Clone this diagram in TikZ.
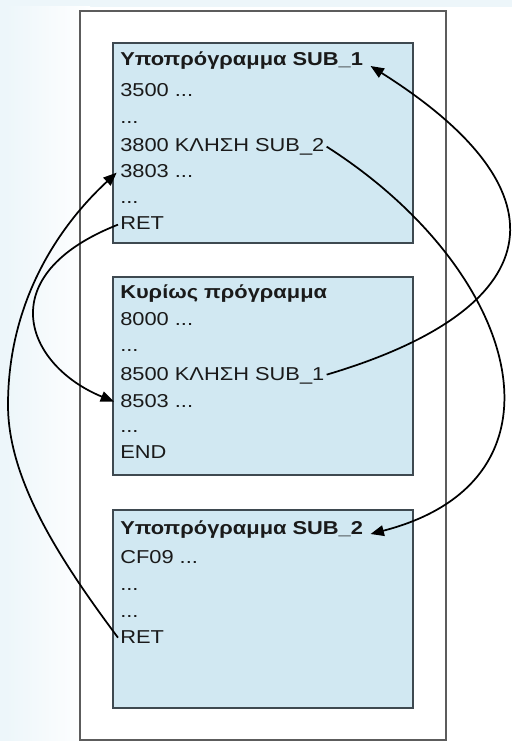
\documentclass[tikz,border=0pt]{standalone}
\usepackage{fontspec}
\setmainfont[FakeStretch=1.17]{Liberation Sans}
\usepackage{tikz}
\usetikzlibrary{arrows.meta}
\definecolor{bgblue}{HTML}{EDF6FA}
\definecolor{blockblue}{HTML}{D1E8F2}
\definecolor{blockedge}{HTML}{3E4950}
\definecolor{framegray}{HTML}{5C5C5C}
\definecolor{codetext}{HTML}{1A1A1A}
\tikzset{
  prog-frame/.style={draw=framegray, fill=white, line width=1.1pt},
  prog-block/.style={draw=blockedge, fill=blockblue, line width=1.2pt},
  prog-line/.style={anchor=base west, inner sep=1.5pt, text height=8pt, text depth=0pt,
    font=\fontsize{14}{17}\selectfont, text=codetext},
  prog-title/.style={prog-line, font=\fontsize{14}{17}\selectfont\bfseries},
  prog-jump/.style={-{Triangle[length=10pt,width=8pt]}, line width=1.3pt, black}
}

\begin{document}
\begin{tikzpicture}[x=0.75pt, y=-0.75pt]
  \useasboundingbox (0,0) rectangle (512,741);
  \fill[bgblue] (0,0) rectangle (512,741);
  \shade[left color=bgblue, right color=white] (6,7) rectangle (90,741);
  \fill[white] (90,7) rectangle (512,741);

  % Memory frame and program blocks
  \draw[prog-frame] (80,11) rectangle (446,740);
  \draw[prog-block] (113,43) rectangle (413,243);
  \draw[prog-block] (113,277) rectangle (413,475);
  \draw[prog-block] (113,510) rectangle (413,708);

  % Subroutine SUB_1
  \node[prog-title] (s1t) at (118,66) {Υποπρόγραμμα SUB\_1};
  \node[prog-line] (s1a) at (118,97) {3500 ...};
  \node[prog-line] (s1b) at (118,124) {...};
  \node[prog-line] (s1c) at (118,152) {3800 ΚΛΗΣΗ SUB\_2};
  \node[prog-line] (s1d) at (118,178) {3803 ...};
  \node[prog-line] (s1e) at (118,204) {...};
  \node[prog-line] (s1r) at (118,230) {RET};

  % Main program
  \node[prog-title] (mt) at (118,298) {Κυρίως πρόγραμμα};
  \node[prog-line] (ma) at (118,325) {8000 ...};
  \node[prog-line] (mb) at (118,351) {...};
  \node[prog-line] (mc) at (118,380) {8500 ΚΛΗΣΗ SUB\_1};
  \node[prog-line] (md) at (118,407) {8503 ...};
  \node[prog-line] (me) at (118,432) {...};
  \node[prog-line] (mr) at (118,458) {END};

  % Subroutine SUB_2
  \node[prog-title] (s2t) at (118,534) {Υποπρόγραμμα SUB\_2};
  \node[prog-line] (s2a) at (118,563) {CF09 ...};
  \node[prog-line] (s2b) at (118,590) {...};
  \node[prog-line] (s2c) at (118,617) {...};
  \node[prog-line] (s2r) at (118,643) {RET};

  % Calls
  \draw[prog-jump] (mc.east) .. controls (545,310) and (575,195) .. ([xshift=4pt]s1t.base east);
  \draw[prog-jump] (s1c.east) .. controls (520,270) and (580,480) .. ([xshift=4pt]s2t.base east);

  % Returns
  \draw[prog-jump] (s1r.west) .. controls (-10,275) and (25,365) .. ([xshift=-3pt]md.west);
  \draw[prog-jump] (s2r.west) .. controls (60,560) and (8,480) .. (8,405)
    .. controls (8,300) and (60,225) .. ([xshift=-1pt]s1d.west);
\end{tikzpicture}
\end{document}
